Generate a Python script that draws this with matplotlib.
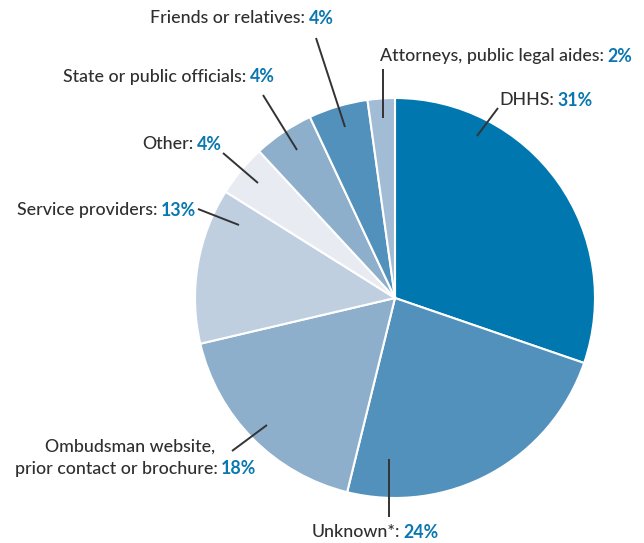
import matplotlib
matplotlib.use("Agg")
import matplotlib.pyplot as plt

# ---- data ----
categories = ["DHHS", "Unknown*", "Ombudsman website,\nprior contact or brochure",
              "Service providers", "Other", "State or public officials",
              "Friends or relatives", "Attorneys, public legal aides"]
shares = [30.3, 23.6, 17.5, 12.6, 4.2, 4.9, 4.8, 2.2]
pct_labels = ["31%", "24%", "18%", "13%", "4%", "4%", "4%", "2%"]
colors = ["#0077ae", "#5191bc", "#8eafcb", "#bfcfe0", "#e8ecf2",
          "#8eafcb", "#5191bc", "#a3bcd6"]

# ---- layout (pixel coordinates, y from top) ----
W, H = 644, 543
CENTER = (395, 298)
RADIUS = 200
# split x between dark label and blue percent, text y
label_pos = [(556, 100), (402, 532), (219, 469), (159, 210),
             (195, 144), (248, 77), (307, 18), (606, 56)]
leaders = [((498, 108), (477, 136)), ((389, 459), (389, 517)),
           ((232, 451), (267, 425)), ((198, 209), (239, 225)),
           ((223, 153), (258, 183)), ((263, 95), (297, 150)),
           ((316, 38), (345, 127)), ((383, 69), (383, 118))]

DARK = "#2f2f2f"
BLUE = "#0a78b0"
FONT = "Lato"
FS = 12.8

fig = plt.figure(figsize=(W / 100, H / 100), dpi=100)
ax = fig.add_axes([0, 0, 1, 1])
ax.set_xlim(0, W)
ax.set_ylim(0, H)
ax.set_aspect("equal")
ax.axis("off")

def Y(y):
    return H - y

ax.pie(shares, colors=colors, startangle=90, counterclock=False,
       center=(CENTER[0], Y(CENTER[1])), radius=RADIUS,
       wedgeprops=dict(edgecolor="white", linewidth=1.5))
ax.set_xlim(0, W)
ax.set_ylim(0, H)

for (p0, p1) in leaders:
    ax.plot([p0[0], p1[0]], [Y(p0[1]), Y(p1[1])], color="#333333", lw=1.4,
            solid_capstyle="butt")

gap = 1.5
for cat, pct, (sx, ty) in zip(categories, pct_labels, label_pos):
    lines = cat.split("\n")
    last = lines[-1] + ":"
    ax.text(sx - gap, Y(ty), last, ha="right", va="center", color=DARK,
            fontsize=FS, family=FONT, fontweight="medium")
    ax.text(sx + gap, Y(ty), pct, ha="left", va="center", color=BLUE,
            fontsize=FS, family=FONT, fontweight="bold")
    if len(lines) > 1:
        ax.text(130, Y(ty - 22), lines[0], ha="center", va="center",
                color=DARK, fontsize=FS, family=FONT, fontweight="medium")

fig.savefig("out.png", dpi=100, facecolor="white")
